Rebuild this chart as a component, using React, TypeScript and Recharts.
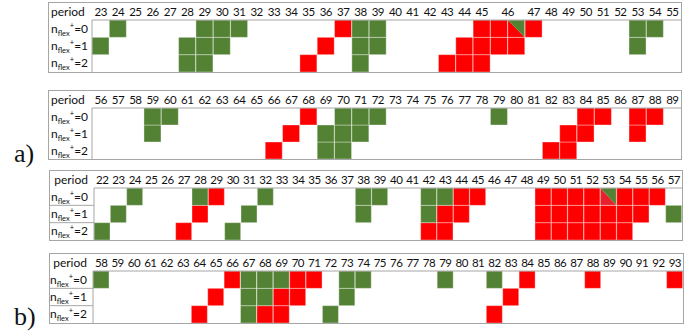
import React from 'react';
import { BarChart, Bar, XAxis, YAxis } from 'recharts';

const GREEN = '#548235';
const RED = '#ff0000';
const LINE = '#a6a6a6';
const FONT = 'Lato, "Noto Sans", sans-serif';

// n_flex^+ levels, top row first
const flexLevels = [0, 1, 2];

// a) upper table — period 46 is split into two sub-columns under one header
const periodsA1 = ['23', '24', '25', '26', '27', '28', '29', '30', '31', '32', '33', '34', '35', '36', '37', '38', '39', '40', '41', '42', '43', '44', '45', '46a', '46b', '47', '48', '49', '50', '51', '52', '53', '54', '55'];
const greenA1 = [
  ['24', '29', '30', '31', '38', '39', '53', '54'],
  ['23', '28', '29', '30', '38', '39', '53'],
  ['28', '29', '38'],
];
const redA1 = [
  ['37', '45', '46a', '47'],
  ['36', '44', '45', '46a', '46b'],
  ['35', '43', '44', '45'],
];
const splitA1 = [['46b'], [], []];

// a) lower table
const periodsA2 = ['56', '57', '58', '59', '60', '61', '62', '63', '64', '65', '66', '67', '68', '69', '70', '71', '72', '73', '74', '75', '76', '77', '78', '79', '80', '81', '82', '83', '84', '85', '86', '87', '88', '89'];
const greenA2 = [
  ['59', '60', '70', '71', '72', '79'],
  ['59', '69', '70', '71'],
  ['69', '70'],
];
const redA2 = [
  ['68', '84', '85', '87', '88'],
  ['67', '83', '84', '87'],
  ['66', '82', '83'],
];

// b) upper table
const periodsB1 = ['22', '23', '24', '25', '26', '27', '28', '29', '30', '31', '32', '33', '34', '35', '36', '37', '38', '39', '40', '41', '42', '43', '44', '45', '46', '47', '48', '49', '50', '51', '52', '53', '54', '55', '56', '57'];
const greenB1 = [
  ['24', '28', '32', '38', '39', '42', '43'],
  ['23', '31', '38', '42', '57'],
  ['22', '30'],
];
const redB1 = [
  ['29', '44', '45', '49', '50', '51', '52', '54', '55', '56'],
  ['28', '43', '44', '49', '50', '51', '52', '53', '54', '55'],
  ['27', '42', '43', '49', '50', '51', '52', '53', '54'],
];
const splitB1 = [['53'], [], []];

// b) lower table
const periodsB2 = ['58', '59', '60', '61', '62', '63', '64', '65', '66', '67', '68', '69', '70', '71', '72', '73', '74', '75', '76', '77', '78', '79', '80', '81', '82', '83', '84', '85', '86', '87', '88', '89', '90', '91', '92', '93'];
const greenB2 = [
  ['58', '67', '68', '69', '73', '74', '79', '82'],
  ['67', '68', '73'],
  ['67', '72'],
];
const redB2 = [
  ['66', '70', '71', '84', '88', '93'],
  ['65', '69', '70', '83'],
  ['64', '68', '69', '82'],
];

type TableProps = {
  periods: string[];
  green: string[][];
  red: string[][];
  split?: string[][];
  splitRed?: string;
  left: number;
  top: number;
  width: number;
  height: number;
  labelW: number;
  headH: number;
  align: 'start' | 'end';
  rowLines?: boolean;
};

function FlexTable(t: TableProps) {
  const data = t.periods.map((key) => ({ key, r2: 1, r1: 1, r0: 1 }));
  const band = (t.width - t.labelW) / t.periods.length;
  const rowH = (t.height - t.headH) / flexLevels.length;

  const cellShape = (row: number) => (p: any) => {
    const key: string = p.payload.key;
    const { x, y, width: w, height: h } = p;
    if (t.split && t.split[row].includes(key)) {
      return (
        <g>
          <polygon points={`${x},${y} ${x + w},${y + h} ${x},${y + h}`} fill={t.splitRed || RED} />
          <polygon points={`${x},${y} ${x + w},${y} ${x + w},${y + h}`} fill={GREEN} />
          <rect x={x} y={y} width={w} height={h} fill="none" stroke="rgba(255,255,255,0.35)" />
        </g>
      );
    }
    const fill = t.green[row].includes(key) ? GREEN : t.red[row].includes(key) ? RED : null;
    if (!fill) return <g />;
    return <rect x={x} y={y} width={w} height={h} fill={fill} stroke="rgba(255,255,255,0.35)" />;
  };

  const periodTick = (p: any) => {
    const key: string = p.payload.value;
    if (key.endsWith('b')) return <g />;
    const shift = key.endsWith('a') ? band / 2 : 0;
    return (
      <text x={p.x + shift} y={p.y - 4} textAnchor="middle" fontSize={11.5} letterSpacing={-0.5}
        fontFamily={FONT} fill="#111">
        {key.replace('a', '')}
      </text>
    );
  };

  const rowTick = (p: any) => {
    const row = Math.round(2.5 - p.payload.value);
    const tx = t.align === 'start' ? p.x - t.labelW + 2 : p.x - 6;
    return (
      <g>
        <text x={tx} y={p.y + 4} textAnchor={t.align} fontSize={12} fontFamily={FONT} fill="#111">
          <tspan>n</tspan>
          <tspan fontSize={7.5} dy={3}>flex</tspan>
          <tspan fontSize={7.5} dy={-8}>+</tspan>
          <tspan dy={5}>={flexLevels[row]}</tspan>
        </text>
        {t.rowLines && row < 2 && (
          <line x1={p.x - t.labelW} x2={p.x} y1={p.y + rowH / 2} y2={p.y + rowH / 2} stroke={LINE} />
        )}
      </g>
    );
  };

  return (
    <div
      style={{
        position: 'absolute',
        left: t.left - 1,
        top: t.top - 1,
        width: t.width,
        height: t.height,
        border: `1px solid ${LINE}`,
      }}
    >
      <BarChart
        width={t.width}
        height={t.height}
        data={data}
        margin={{ top: 0, right: 0, bottom: 0, left: 0 }}
        barCategoryGap={0}
        barGap={0}
      >
        <XAxis
          dataKey="key"
          orientation="top"
          height={t.headH}
          interval={0}
          tickLine={false}
          tickSize={0}
          tickMargin={0}
          axisLine={{ stroke: LINE }}
          tick={periodTick}
        />
        <YAxis
          type="number"
          domain={[0, 3]}
          ticks={[0.5, 1.5, 2.5]}
          interval={0}
          width={t.labelW}
          tickLine={false}
          tickSize={0}
          tickMargin={0}
          axisLine={{ stroke: LINE }}
          tick={rowTick}
        />
        <Bar dataKey="r2" stackId="s" isAnimationActive={false} shape={cellShape(2)} />
        <Bar dataKey="r1" stackId="s" isAnimationActive={false} shape={cellShape(1)} />
        <Bar dataKey="r0" stackId="s" isAnimationActive={false} shape={cellShape(0)} />
      </BarChart>
      <div
        style={{
          position: 'absolute',
          left: 0,
          top: 0,
          width: t.labelW,
          height: t.headH,
          lineHeight: `${t.headH}px`,
          fontSize: 12,
          fontFamily: FONT,
          color: '#111',
          textAlign: t.align === 'start' ? 'left' : 'right',
          paddingLeft: t.align === 'start' ? 2 : 0,
          paddingRight: t.align === 'start' ? 0 : 6,
          boxSizing: 'border-box',
        }}
      >
        period
      </div>
    </div>
  );
}

const panelLabel: React.CSSProperties = {
  position: 'absolute',
  left: 14,
  fontFamily: '"Liberation Serif", serif',
  fontSize: 26,
  lineHeight: '26px',
  color: '#111',
};

export default function App() {
  return (
    <div style={{ position: 'absolute', left: 0, top: 0, width: 697, height: 331, background: '#fff' }}>
      <FlexTable periods={periodsA1} green={greenA1} red={redA1} split={splitA1}
        left={49} top={3} width={632} height={69} labelW={43} headH={17} align="start" />
      <FlexTable periods={periodsA2} green={greenA2} red={redA2}
        left={49} top={91} width={632} height={68} labelW={43} headH={17} align="start" />
      <FlexTable periods={periodsB1} green={greenB1} red={redB1} split={splitB1} splitRed="#e8202e"
        left={50} top={171} width={632} height={69} labelW={44} headH={17} align="end" rowLines />
      <FlexTable periods={periodsB2} green={greenB2} red={redB2}
        left={50} top={254} width={633} height={69} labelW={43} headH={17} align="end" rowLines />
      <div style={{ ...panelLabel, top: 141 }}>a)</div>
      <div style={{ ...panelLabel, top: 304 }}>b)</div>
    </div>
  );
}
